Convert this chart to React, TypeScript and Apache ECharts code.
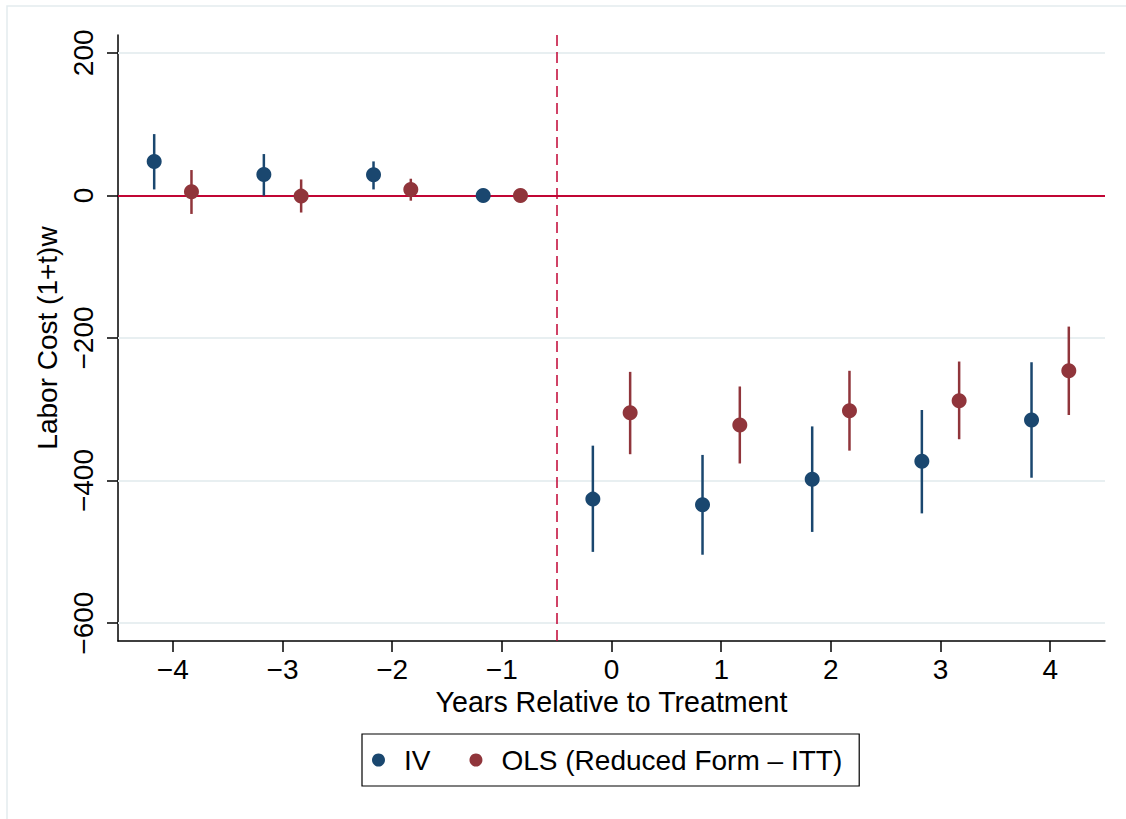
import React, { useEffect, useRef } from "react";
import * as echarts from "echarts";

const years = [-4, -3, -2, -1, 0, 1, 2, 3, 4];
const ivEst = [47.7, 29.4, 29, 0, -426, -434, -398, -373, -315];
const ivLo = [8.4, -0.4, 8.4, 0, -500, -504, -472, -446, -396];
const ivHi = [86, 58, 47.7, 0, -351, -364, -324, -301, -234];
const olsEst = [5.2, -1, 8.4, 0, -305, -322, -302, -288, -246];
const olsLo = [-26, -24, -7.4, 0, -363, -376, -358, -342, -308];
const olsHi = [35.6, 22.4, 23.4, 0, -247.5, -268, -246, -233, -184];
const xTicks = [-4, -3, -2, -1, 0, 1, 2, 3, 4];
const yTicks = [-600, -400, -200, 0, 200];
const treatmentLine = -0.5;
const dodge = 0.17;

const IV_COLOR = "#1a476f";
const OLS_COLOR = "#90353b";
const RED = "#c10534";
const FONT = "'Liberation Sans', Arial, Helvetica, sans-serif";

function barSeries(name: string, off: number, lo: number[], hi: number[], color: string) {
  return {
    type: "custom",
    name,
    z: 3,
    silent: true,
    data: years.map((y, i) => [y + off, lo[i], hi[i]]),
    encode: { x: 0, y: [1, 2] },
    renderItem: (params: any, api: any) => {
      const x = api.value(0);
      const p1 = api.coord([x, api.value(1)]);
      const p2 = api.coord([x, api.value(2)]);
      return {
        type: "line",
        shape: { x1: p1[0], y1: p1[1], x2: p2[0], y2: p2[1] },
        style: { stroke: color, lineWidth: 2.5 },
      };
    },
  };
}

export default function App() {
  const ref = useRef<HTMLDivElement>(null);
  useEffect(() => {
    document.body.style.margin = "0";
    const chart = echarts.init(ref.current!, null, { renderer: "svg" });
    const ivName = "IV";
    const olsName = "OLS (Reduced Form \u2013 ITT)";
    chart.setOption({
      animation: false,
      backgroundColor: "#ffffff",
      textStyle: { fontFamily: FONT, color: "#000" },
      graphic: [
        {
          type: "rect",
          silent: true,
          shape: { x: 7, y: 6, width: 1300, height: 1000 },
          style: { fill: "none", stroke: "#e3ebee", lineWidth: 1.5 },
        },
      ],
      grid: { left: 118, right: 21, top: 35, bottom: 178 },
      xAxis: {
        type: "value",
        min: -4.5,
        max: 4.5,
        name: "Years Relative to Treatment",
        nameLocation: "middle",
        nameGap: 45,
        nameTextStyle: { fontSize: 28.6, color: "#000", fontFamily: FONT },
        axisLine: { show: true, onZero: false, lineStyle: { color: "#000", width: 1.5 } },
        axisTick: { show: true, length: 11, customValues: xTicks, lineStyle: { color: "#000", width: 1.5 } },
        axisLabel: {
          customValues: xTicks,
          fontSize: 28,
          color: "#000",
          margin: 14,
          fontFamily: FONT,
          formatter: (v: number) => String(v).replace("-", "\u2212"),
        },
        splitLine: { show: false },
      },
      yAxis: {
        type: "value",
        min: -625,
        max: 225,
        name: "Labor Cost (1+t)w",
        nameLocation: "middle",
        nameRotate: 90,
        nameGap: 50,
        nameTextStyle: { fontSize: 28, color: "#000", fontFamily: FONT },
        axisLine: { show: true, onZero: false, lineStyle: { color: "#000", width: 1.5 } },
        axisTick: { show: true, length: 11, customValues: yTicks, lineStyle: { color: "#000", width: 1.5 } },
        axisLabel: {
          customValues: yTicks,
          rotate: 90,
          fontSize: 28,
          color: "#000",
          margin: 21,
          fontFamily: FONT,
          formatter: (v: number) => String(v).replace("-", "\u2212"),
        },
        splitLine: { show: false },
      },
      legend: {
        data: [ivName, olsName],
        left: 362,
        top: 734,
        orient: "horizontal",
        padding: [12, 17, 12, 10],
        borderColor: "#000",
        borderWidth: 1.2,
        itemGap: 39,
        itemWidth: 13,
        itemHeight: 13,
        icon: "circle",
        textStyle: { fontSize: 28, lineHeight: 28, color: "#000", fontFamily: FONT, padding: [0, 0, 0, 14] },
      },
      series: [
        {
          type: "line",
          name: "grid",
          data: [],
          silent: true,
          z: 1,
          markLine: {
            silent: true,
            symbol: "none",
            z: 1,
            label: { show: false },
            lineStyle: { color: "#e8eff1", width: 2, type: "solid" },
            data: yTicks.map((v) => ({ yAxis: v })),
          },
        },
        {
          type: "line",
          name: "refs",
          data: [],
          silent: true,
          z: 2,
          markLine: {
            silent: true,
            symbol: "none",
            z: 2,
            label: { show: false },
            data: [
              { yAxis: 0, lineStyle: { color: RED, width: 2.2, type: "solid" } },
              { xAxis: treatmentLine, lineStyle: { color: RED, width: 1.5, type: [11, 6] } },
            ],
          },
        },
        barSeries("ivci", -dodge, ivLo, ivHi, IV_COLOR),
        barSeries("olsci", dodge, olsLo, olsHi, OLS_COLOR),
        {
          type: "scatter",
          name: ivName,
          z: 4,
          symbol: "circle",
          symbolSize: 15,
          itemStyle: { color: IV_COLOR, opacity: 1 },
          data: years.map((y, i) => [y - dodge, ivEst[i]]),
        },
        {
          type: "scatter",
          name: olsName,
          z: 4,
          symbol: "circle",
          symbolSize: 15,
          itemStyle: { color: OLS_COLOR, opacity: 1 },
          data: years.map((y, i) => [y + dodge, olsEst[i]]),
        },
      ],
    });
    return () => chart.dispose();
  }, []);
  return <div ref={ref} style={{ width: 1126, height: 819 }} />;
}
